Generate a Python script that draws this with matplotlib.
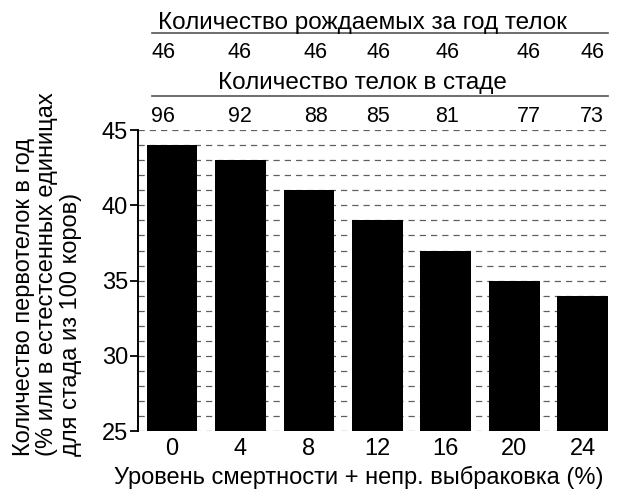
import matplotlib
matplotlib.use('Agg')
import matplotlib.pyplot as plt
import matplotlib.transforms as mtransforms

# data
loss_rate = ['0', '4', '8', '12', '16', '20', '24']
heifers_per_year = [44, 43, 41, 39, 37, 35, 34]
heifers_born = [46, 46, 46, 46, 46, 46, 46]
heifers_in_herd = [96, 92, 88, 85, 81, 77, 73]

# small shifts of the number columns relative to the bars (layout only)
col_shift = [-0.13, -0.01, 0.10, 0.01, 0.02, 0.21, 0.14]

plt.rcParams['font.family'] = ['Liberation Sans', 'DejaVu Sans']

fig = plt.figure(figsize=(6.21, 4.91), dpi=100)
ax = fig.add_axes([0.222, 0.122, 0.757, 0.613])

xs = list(range(len(loss_rate)))
ax.set_axisbelow(True)
ax.bar(xs, heifers_per_year, width=0.74, color='black', bottom=0)
ax.set_ylim(25, 45)
ax.set_xlim(-0.5, 6.37)

ax.set_yticks([25, 30, 35, 40, 45])
ax.set_yticks(range(26, 45), minor=True)
ax.yaxis.grid(True, which='both', linestyle=(0, (5, 4)), color='#606060', linewidth=0.9)
ax.tick_params(axis='y', which='major', length=6, width=1.3, labelsize=17, pad=1)
ax.tick_params(axis='y', which='minor', length=0)
ax.set_xticks(xs)
ax.set_xticklabels(loss_rate)
ax.tick_params(axis='x', length=0, labelsize=17, pad=5)

for s in ['top', 'right', 'bottom']:
    ax.spines[s].set_visible(False)
ax.spines['left'].set_linewidth(1.4)

ax.set_xlabel('Уровень смертности + непр. выбраковка (%)', fontsize=17)
ax.xaxis.set_label_coords(0.47, -0.115)
ax.xaxis.label.set_va('top')

fig.text(13 / 621, 1 - 456 / 491,
         'Количество первотелок в год\n(% или в естестсенных единицах\nдля стада из 100 коров)',
         rotation=90, ha='left', va='bottom', multialignment='left',
         fontsize=17, linespacing=1.08)

# header tables above the plot (x in data units, y in figure units)
trans = mtransforms.blended_transform_factory(ax.transData, fig.transFigure)
x0, x1 = -0.37, 6.37

ax.text(2.78, 1 - 23 / 491, 'Количество рождаемых за год телок', transform=trans,
        ha='center', va='center', fontsize=17.5)
ax.plot([x0 + 0.08, x1], [1 - 33 / 491] * 2, transform=trans, color='#555555',
        linewidth=1.2, clip_on=False)
for x, sh, v in zip(xs, col_shift, heifers_born):
    ax.text(x + sh, 1 - 53 / 491, str(v), transform=trans, ha='center', va='center', fontsize=15.5)

ax.text(2.78, 1 - 83 / 491, 'Количество телок в стаде', transform=trans,
        ha='center', va='center', fontsize=17.5)
ax.plot([x0 + 0.08, x1], [1 - 96 / 491] * 2, transform=trans, color='#555555',
        linewidth=1.2, clip_on=False)
for x, sh, v in zip(xs, col_shift, heifers_in_herd):
    ax.text(x + sh, 1 - 116 / 491, str(v), transform=trans, ha='center', va='center', fontsize=15.5)

fig.savefig('out.png', dpi=100)
